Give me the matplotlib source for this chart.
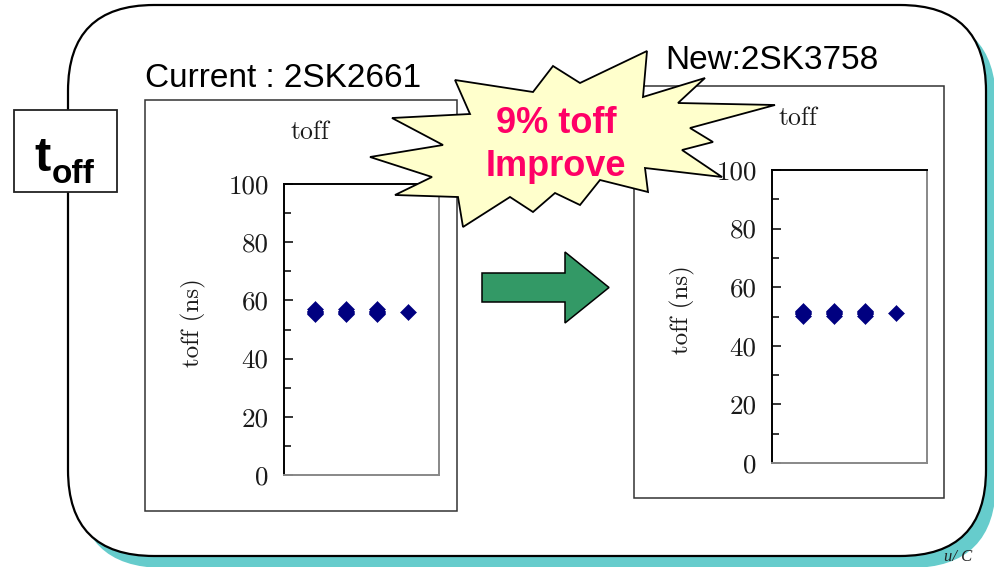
import matplotlib
matplotlib.use('Agg')
import matplotlib.pyplot as plt
from matplotlib.patches import FancyBboxPatch, Rectangle, Polygon, FancyArrow

# data (several overlapping samples per column)
sample_x = [1, 1, 1, 1, 1, 2, 2, 2, 2, 2, 3, 3, 3, 3, 3, 4]
toff_current = [55.3, 55.7, 56.1, 56.5, 56.9, 55.3, 55.7, 56.1, 56.5, 56.9,
                55.3, 55.7, 56.1, 56.5, 56.9, 56.1]
toff_new = [50.3, 50.7, 51.1, 51.5, 51.9, 50.3, 50.7, 51.1, 51.5, 51.9,
            50.3, 50.7, 51.1, 51.5, 51.9, 51.1]
y_ticks = [0, 20, 40, 60, 80, 100]
chart_title = 'toff'
y_label = 'toff (ns)'
label_current = 'Current : 2SK2661'
label_new = 'New:2SK3758'
star_text = '9% toff\nImprove'

W, H = 994, 567
SANS = ['Liberation Sans', 'DejaVu Sans']
SERIF = ['cmr10', 'DejaVu Serif']

# starburst outline (pixels)
star_pts = [(647, 51), (643, 97), (705, 78), (678, 103), (775, 105), (690, 128),
            (713, 142), (682, 150), (722, 177), (645, 168), (648, 192), (600, 180),
            (580, 205), (555, 193), (533, 212), (510, 197), (463, 227), (458, 197),
            (395, 195), (432, 177), (370, 157), (443, 145), (392, 118), (470, 114),
            (455, 80), (533, 92), (553, 66), (580, 83)]


def px_axes(fig, left, top, right, bottom):
    return fig.add_axes([left / W, 1 - bottom / H, (right - left) / W, (bottom - top) / H])


def draw_chart(ax, values, title_x, label_x):
    ax.plot(sample_x, values, linestyle='none', marker='D', markersize=8.6,
            color='#000080', markeredgecolor='#000080', markeredgewidth=0.4)
    ax.set_xlim(0, 5)
    ax.set_ylim(0, 100)
    ax.set_xticks([])
    ax.set_yticks(y_ticks)
    ax.set_yticks(range(10, 100, 20), minor=True)
    ax.tick_params(axis='y', which='major', direction='in', length=6.5, width=1.1,
                   pad=11, labelsize=19.5, labelcolor='#1a1a1a')
    ax.tick_params(axis='y', which='minor', direction='in', length=5, width=1.1)
    for lbl in ax.get_yticklabels():
        lbl.set_family(SERIF)
    ax.spines['left'].set_color('black')
    ax.spines['top'].set_color('black')
    ax.spines['right'].set_color('#888888')
    ax.spines['bottom'].set_color('#888888')
    for s in ax.spines.values():
        s.set_linewidth(1.4)
    ax.text(title_x, 1.178, chart_title, transform=ax.transAxes, ha='center', va='center',
            family=SERIF, fontsize=18.5, color='#1a1a1a')
    ax.text(label_x, 0.522, y_label, transform=ax.transAxes, ha='center', va='center',
            rotation=90, family=SERIF, fontsize=18, color='#1a1a1a')


fig = plt.figure(figsize=(W / 100, H / 100), dpi=100)

# background layer: slide box, frames, labels, arrow
bg = fig.add_axes([0, 0, 1, 1], zorder=0)
bg.set_xlim(0, W)
bg.set_ylim(H, 0)
bg.axis('off')

bg.add_patch(FancyBboxPatch((78, 17), 918, 551, boxstyle='round,pad=0,rounding_size=86',
                            facecolor='#66CCCC', edgecolor='none'))
bg.add_patch(FancyBboxPatch((68, 5), 918, 551, boxstyle='round,pad=0,rounding_size=86',
                            facecolor='white', edgecolor='black', linewidth=1.6))

bg.add_patch(Rectangle((14, 110), 103, 82, facecolor='white', edgecolor='#222222', linewidth=1.3))
bg.text(34, 171, 't', fontsize=35, fontweight='bold', family=SANS, va='baseline', ha='left')
bg.text(52, 183, 'off', fontsize=24, fontweight='bold', family=SANS, va='baseline', ha='left')

bg.add_patch(Rectangle((145, 100), 312, 411, facecolor='white', edgecolor='#333333', linewidth=1.1))
bg.add_patch(Rectangle((634, 86), 310, 412, facecolor='white', edgecolor='#333333', linewidth=1.1))

bg.text(145, 87, label_current, fontsize=24, family=SANS, va='baseline', ha='left')
bg.text(665, 69, label_new, fontsize=24, family=SANS, va='baseline', ha='left')

bg.add_patch(FancyArrow(482, 287.5, 127, 0, width=29, head_width=71, head_length=44,
                        length_includes_head=True, facecolor='#339966',
                        edgecolor='black', linewidth=1.1))

bg.text(944, 565, 'u/ C', fontsize=12, family=['Liberation Serif', 'DejaVu Serif'],
        style='italic', va='bottom', ha='left', color='#222222')

# left chart (under the starburst)
ax1 = px_axes(fig, 284, 184, 439, 475)
ax1.set_zorder(1)
draw_chart(ax1, toff_current, (310 - 284) / 155, (193 - 284) / 155)

# starburst layer
fg = fig.add_axes([0, 0, 1, 1], zorder=2)
fg.set_xlim(0, W)
fg.set_ylim(H, 0)
fg.axis('off')
fg.patch.set_visible(False)
fg.add_patch(Polygon(star_pts, closed=True, facecolor='#FFFFCC', edgecolor='black',
                     linewidth=1.3, joinstyle='miter'))
fg.text(556, 145, star_text, fontsize=26, fontweight='bold', family=SANS,
        color='#FF0066', ha='center', va='center', linespacing=1.3)

# right chart
ax2 = px_axes(fig, 772, 170, 927, 463)
ax2.set_zorder(3)
draw_chart(ax2, toff_new, (798 - 772) / 155, (682 - 772) / 155)

fig.savefig('out.png', dpi=100)
